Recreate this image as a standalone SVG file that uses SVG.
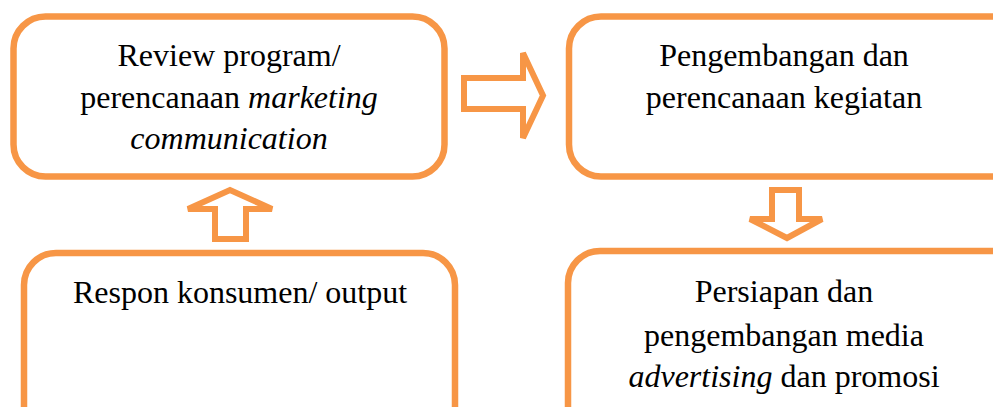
<svg xmlns="http://www.w3.org/2000/svg" width="993" height="407" viewBox="0 0 993 407">
<style>
.box{fill:#fff;stroke:#F79646;stroke-width:6.5}
.arr{fill:#fff;stroke:#F79646;stroke-width:6;stroke-linejoin:miter}
text{font-size:32px;fill:#000;text-anchor:middle}
.i{font-style:italic}
</style>
<rect width="993" height="407" fill="#fff"/>
<g id="node-review" font-family="Liberation Serif, Tinos, Times New Roman, DejaVu Serif, serif">
<rect class="box" x="13.5" y="16.5" width="431" height="160" rx="32"/>
<text x="229" y="66">Review program/</text>
<text x="229" y="108">perencanaan <tspan class="i">marketing</tspan></text>
<text x="229" y="149" class="i">communication</text>
</g>
<g id="node-pengembangan" font-family="Liberation Serif, Tinos, Times New Roman, DejaVu Serif, serif">
<rect class="box" x="569" y="16.5" width="460" height="160" rx="32"/>
<text x="784" y="66">Pengembangan dan</text>
<text x="784" y="108">perencanaan kegiatan</text>
</g>
<g id="node-respon" font-family="Liberation Serif, Tinos, Times New Roman, DejaVu Serif, serif">
<rect class="box" x="24" y="253" width="431" height="200" rx="32"/>
<text x="240" y="303">Respon konsumen/ output</text>
</g>
<g id="node-persiapan" font-family="Liberation Serif, Tinos, Times New Roman, DejaVu Serif, serif">
<rect class="box" x="568" y="251" width="460" height="200" rx="32"/>
<text x="784" y="302">Persiapan dan</text>
<text x="784" y="346">pengembangan media</text>
<text x="784" y="387"><tspan class="i">advertising</tspan> dan promosi</text>
</g>
<g id="connectors">
<polygon class="arr" points="464,78 523,78 523,53 543,95.5 523,138 523,109 464,109"/>
<polygon class="arr" points="215,239 246,239 246,209 272,209 230,190 188,209 215,209"/>
<polygon class="arr" points="772,190 799,190 799,219 822,219 787,238 750,219 772,219"/>
</g>
</svg>
